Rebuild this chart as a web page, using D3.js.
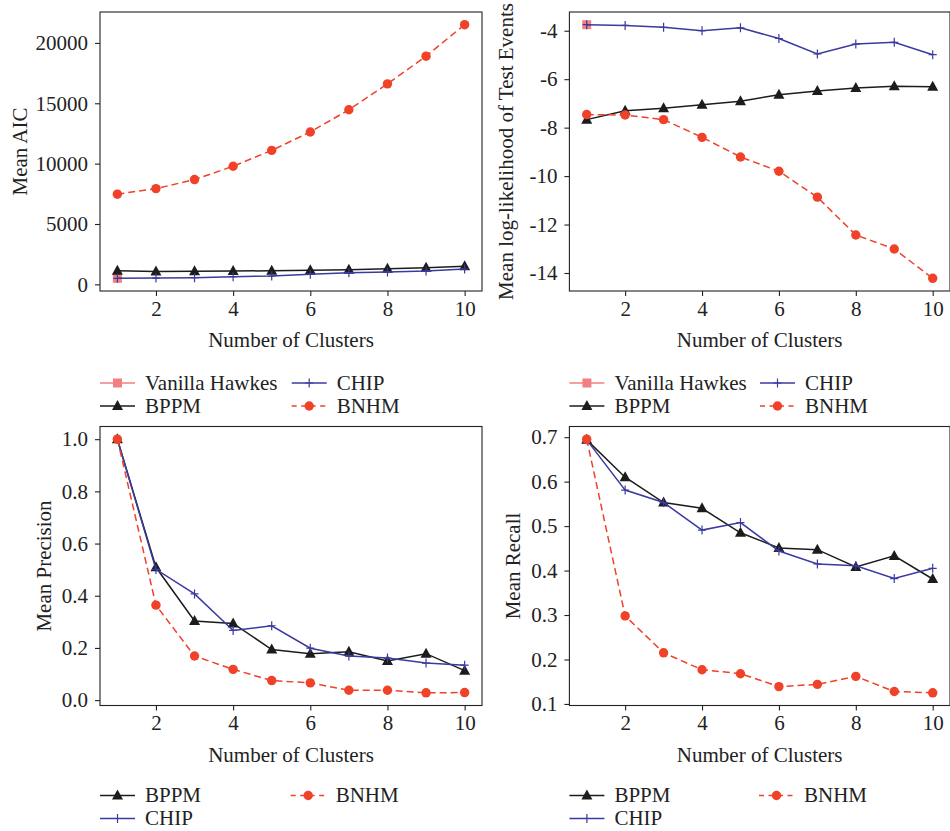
<!DOCTYPE html>
<html><head><meta charset="utf-8">
<script src="https://cdn.jsdelivr.net/npm/d3@7"></script>
<style>
html,body{margin:0;padding:0;background:#fff;}
svg text{font-family:"Liberation Serif","DejaVu Serif",serif;fill:#222;}
</style></head>
<body><svg id="c" width="950" height="831"></svg>
<script>
const clusters = [1,2,3,4,5,6,7,8,9,10];
const xTicks = [2,4,6,8,10];

// Panel 1: Mean AIC
const aicVanilla = [500];
const aicBPPM = [1130,1070,1080,1100,1130,1160,1210,1290,1380,1490];
const aicCHIP = [500,520,550,630,690,830,960,1020,1100,1270];
const aicBNHM = [7470,7930,8680,9780,11100,12620,14460,16610,18900,21510];
const aicTicks = [0,5000,10000,15000,20000];

// Panel 2: Mean log-likelihood
const llVanilla = [-3.75];
const llBPPM = [-7.67,-7.30,-7.20,-7.06,-6.91,-6.64,-6.49,-6.36,-6.29,-6.31];
const llCHIP = [-3.75,-3.78,-3.86,-4.0,-3.88,-4.32,-4.96,-4.55,-4.48,-4.99];
const llBNHM = [-7.46,-7.48,-7.67,-8.40,-9.21,-9.80,-10.87,-12.43,-13.01,-14.22];
const llTicks = [-14,-12,-10,-8,-6,-4];

// Panel 3: Mean Precision
const precBPPM = [1.0,0.509,0.303,0.294,0.194,0.178,0.185,0.150,0.178,0.113];
const precCHIP = [1.0,0.501,0.407,0.267,0.285,0.199,0.169,0.161,0.142,0.134];
const precBNHM = [1.0,0.364,0.169,0.118,0.075,0.066,0.038,0.038,0.028,0.029];
const precTicks = [0.0,0.2,0.4,0.6,0.8,1.0];

// Panel 4: Mean Recall
const recBPPM = [0.694,0.610,0.553,0.540,0.485,0.451,0.447,0.408,0.433,0.381];
const recCHIP = [0.694,0.581,0.553,0.491,0.508,0.444,0.415,0.411,0.382,0.405];
const recBNHM = [0.6955,0.298,0.215,0.177,0.168,0.139,0.144,0.162,0.128,0.125];
const recTicks = [0.1,0.2,0.3,0.4,0.5,0.6,0.7];

const seriesNames = {vanilla:"Vanilla Hawkes", bppm:"BPPM", chip:"CHIP", bnhm:"BNHM"};

const styles = {
  vanilla:{color:"#f28080", dash:null, marker:"square"},
  bppm:{color:"#1c1c1c", dash:null, marker:"triangle"},
  chip:{color:"#3a3aa0", dash:null, marker:"plus"},
  bnhm:{color:"#ef4229", dash:"7,4", marker:"circle"}
};

const FS = 21;

const panels = [
  {x0:100,x1:482,y0:12,y1:291, ylabel:"Mean AIC", ylabelX:27, ticks:aicTicks, fmt:d3.format("d"),
   series:[["vanilla",aicVanilla],["bppm",aicBPPM],["chip",aicCHIP],["bnhm",aicBNHM]],
   legend:[["vanilla",0,0],["bppm",0,1],["chip",1,0],["bnhm",1,1]], legCol2:191.7, legY:92},
  {x0:569.4,x1:950,y0:12,y1:291, ylabel:"Mean log-likelihood of Test Events", ylabelX:513, ticks:llTicks, fmt:d3.format("d"),
   series:[["vanilla",llVanilla],["bppm",llBPPM],["chip",llCHIP],["bnhm",llBNHM]],
   legend:[["vanilla",0,0],["bppm",0,1],["chip",1,0],["bnhm",1,1]], legCol2:190.6, legY:92},
  {x0:100,x1:482,y0:426.5,y1:705.5, ylabel:"Mean Precision", ylabelX:50.5, ticks:precTicks, fmt:d3.format(".1f"),
   series:[["bppm",precBPPM],["chip",precCHIP],["bnhm",precBNHM]],
   legend:[["bppm",0,0],["chip",0,1],["bnhm",1,0]], legCol2:190.7, legY:90},
  {x0:569.4,x1:950,y0:426.5,y1:705.5, ylabel:"Mean Recall", ylabelX:520, ticks:recTicks, fmt:d3.format(".1f"),
   series:[["bppm",recBPPM],["chip",recCHIP],["bnhm",recBNHM]],
   legend:[["bppm",0,0],["chip",0,1],["bnhm",1,0]], legCol2:189.6, legY:90}
];

const svg = d3.select("#c");

function drawMarker(g, type, cx, cy, color){
  if(type==="square"){
    g.append("rect").attr("x",cx-4.5).attr("y",cy-4.5).attr("width",9).attr("height",9).attr("fill",color);
  } else if(type==="triangle"){
    g.append("path").attr("d",`M${cx},${cy-6}L${cx+5.5},${cy+4}L${cx-5.5},${cy+4}Z`).attr("fill",color);
  } else if(type==="circle"){
    g.append("circle").attr("cx",cx).attr("cy",cy).attr("r",4.7).attr("fill",color);
  } else if(type==="plus"){
    g.append("path").attr("d",`M${cx-4},${cy}H${cx+4}M${cx},${cy-4.5}V${cy+4.5}`).attr("stroke",color).attr("stroke-width",1.2).attr("fill","none");
  }
}

panels.forEach(p=>{
  const g = svg.append("g");
  const x = d3.scaleLinear().domain([1-0.45, 10+0.45]).range([p.x0,p.x1]);
  const all = p.series.flatMap(s=>s[1]);
  const mn = d3.min(all), mx = d3.max(all), pad=(mx-mn)*0.05;
  const y = d3.scaleLinear().domain([mn-pad, mx+pad]).range([p.y1,p.y0]);

  p.series.forEach(([key, vals])=>{
    const st = styles[key];
    const pts = vals.map((v,i)=>[clusters[i], v]);
    const line = d3.line().x(d=>x(d[0])).y(d=>y(d[1]));
    if(pts.length>1){
      g.append("path").attr("d",line(pts)).attr("fill","none").attr("stroke",st.color)
       .attr("stroke-width",1.5).attr("stroke-dasharray",st.dash);
    }
    const mg = g.append("g");
    pts.forEach(d=>drawMarker(mg, st.marker, x(d[0]), y(d[1]), st.color));
  });

  g.append("rect").attr("x",p.x0).attr("y",p.y0).attr("width",p.x1-p.x0).attr("height",p.y1-p.y0)
   .attr("fill","none").attr("stroke","#222").attr("stroke-width",1.1);

  const xa = g.append("g").attr("transform",`translate(0,${p.y1})`)
    .call(d3.axisBottom(x).tickValues(xTicks).tickSize(5).tickPadding(5).tickFormat(d3.format("d")));
  const ya = g.append("g").attr("transform",`translate(${p.x0},0)`)
    .call(d3.axisLeft(y).tickValues(p.ticks).tickSize(5).tickPadding(7).tickFormat(d=>p.fmt(d).replace("\u2212","-")));
  [xa,ya].forEach(a=>{
    a.select(".domain").remove();
    a.selectAll(".tick line").attr("stroke","#222").attr("stroke-width",1.1);
    a.selectAll("text").attr("font-size",FS).attr("fill","#222").style("font-family","'Liberation Serif',serif");
  });
  xa.selectAll("text").attr("dy","0.71em");

  g.append("text").attr("x",(p.x0+p.x1)/2).attr("y",p.y1+56).attr("text-anchor","middle")
   .attr("font-size",FS).text("Number of Clusters");
  g.append("text").attr("transform",`translate(${p.ylabelX},${(p.y0+p.y1)/2}) rotate(-90)`)
   .attr("text-anchor","middle").attr("font-size",FS).text(p.ylabel);

  const lg = g.append("g").attr("transform",`translate(${p.x0},${p.y1+p.legY})`);
  p.legend.forEach(([key,col,row])=>{
    const st = styles[key];
    const lx = col*p.legCol2, ly = row*23;
    lg.append("line").attr("x1",lx).attr("x2",lx+35).attr("y1",ly).attr("y2",ly)
      .attr("stroke",st.color).attr("stroke-width",1.5).attr("stroke-dasharray",st.dash?"5,4.5":null);
    drawMarker(lg, st.marker, lx+17.5, ly, st.color);
    lg.append("text").attr("x",lx+45).attr("y",ly).attr("dy","0.33em").attr("font-size",FS).text(seriesNames[key]);
  });
});
</script></body></html>
